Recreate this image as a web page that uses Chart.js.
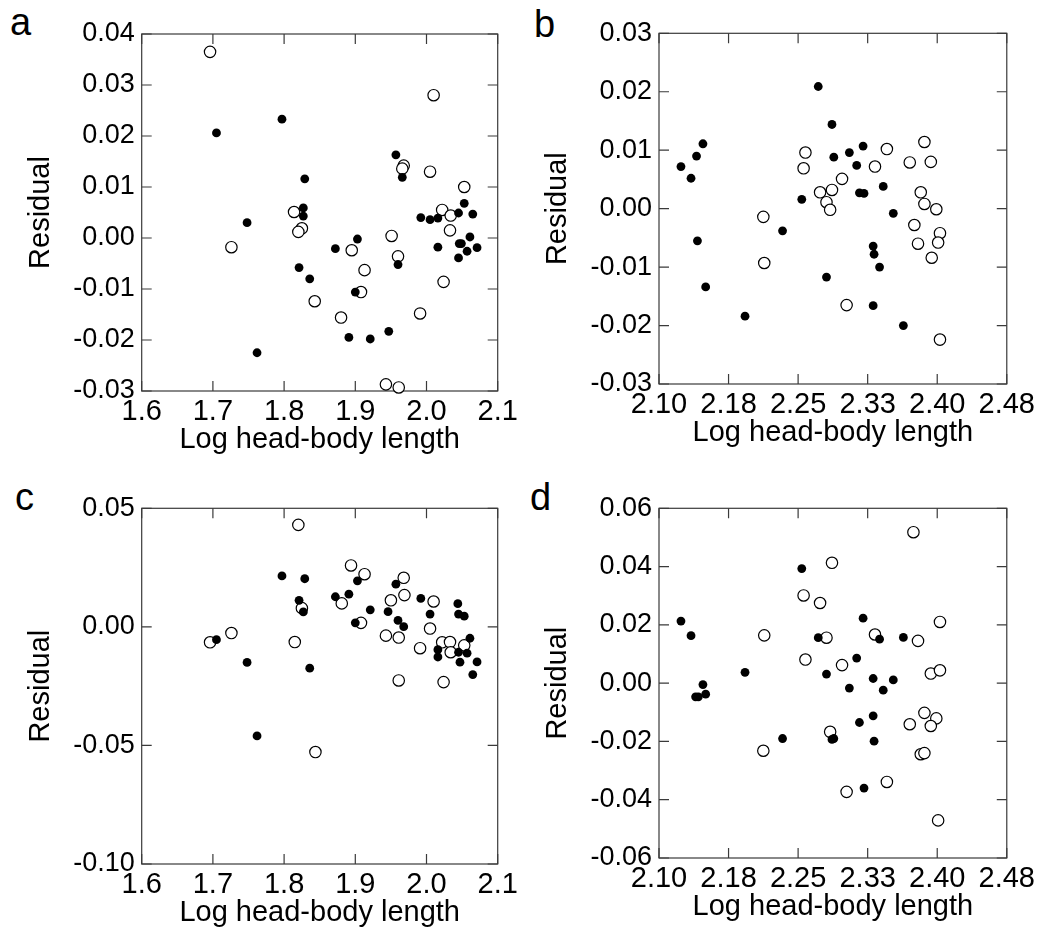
<!DOCTYPE html>
<html>
<head>
<meta charset="utf-8">
<script src="https://cdn.jsdelivr.net/npm/chart.js@4"></script>
<style>
  html, body { margin: 0; padding: 0; background: #fff; overflow: hidden; }
  body { width: 1041px; height: 928px; position: relative; }
  canvas { position: absolute; }
  .letter { position: absolute; font: 38px/38px 'Liberation Sans', Arial, sans-serif; color: #000; }
</style>
</head>
<body>
<div class="letter" style="left:10px;top:3px">a</div>
<div class="letter" style="left:534px;top:5px">b</div>
<div class="letter" style="left:15px;top:478px">c</div>
<div class="letter" style="left:530px;top:478px">d</div>
<canvas id="chartA"></canvas>
<canvas id="chartB"></canvas>
<canvas id="chartC"></canvas>
<canvas id="chartD"></canvas>
<script>
// tick values
const xTicksAC = [1.6, 1.7, 1.8, 1.9, 2.0, 2.1];
const xTicksBD = [2.10, 2.176, 2.252, 2.328, 2.404, 2.48];
const yTicksA = [-0.03, -0.02, -0.01, 0, 0.01, 0.02, 0.03, 0.04];
const yTicksB = [-0.03, -0.02, -0.01, 0, 0.01, 0.02, 0.03];
const yTicksC = [-0.10, -0.05, 0, 0.05];
const yTicksD = [-0.06, -0.04, -0.02, 0, 0.02, 0.04, 0.06];

// panel a: [log head-body length, residual]
const aOpen = [[1.696,0.0365],[2.010,0.0280],[1.968,0.0142],[1.966,0.0136],[2.005,0.0130],[2.053,0.0100],
  [2.022,0.0055],[2.034,0.0044],[2.033,0.0015],[1.814,0.0051],[1.825,0.0019],[1.820,0.0012],[1.726,-0.0018],
  [1.951,0.0004],[1.895,-0.0024],[1.960,-0.0036],[1.913,-0.0063],[1.908,-0.0106],[2.024,-0.0086],[1.843,-0.0124],
  [1.880,-0.0156],[1.991,-0.0148],[1.943,-0.0287],[1.961,-0.0293]];
const aFilled = [[1.705,0.0206],[1.797,0.0233],[1.829,0.0116],[1.957,0.0163],[1.966,0.0119],[1.748,0.0030],
  [1.827,0.0059],[1.827,0.0043],[1.992,0.0040],[2.005,0.0036],[2.016,0.0039],[2.045,0.0049],[2.053,0.0068],
  [2.065,0.0047],[2.061,0.0002],[1.872,-0.0021],[1.903,-0.0002],[2.016,-0.0018],[2.046,-0.0011],[2.049,-0.0011],
  [2.071,-0.0019],[2.057,-0.0026],[2.045,-0.0039],[1.960,-0.0052],[1.821,-0.0058],[1.836,-0.0080],[1.900,-0.0106],
  [1.891,-0.0195],[1.921,-0.0198],[1.947,-0.0183],[1.762,-0.0225]];

// panel b
const bOpen = [[2.260,0.0096],[2.258,0.0069],[2.276,0.0028],[2.289,0.0032],[2.283,0.0011],[2.287,-0.0002],
  [2.300,0.0051],[2.336,0.0072],[2.349,0.0102],[2.374,0.0079],[2.390,0.0114],[2.397,0.0080],[2.386,0.0028],
  [2.390,0.0008],[2.403,-0.0001],[2.379,-0.0028],[2.407,-0.0042],[2.405,-0.0058],[2.383,-0.0060],[2.398,-0.0084],
  [2.214,-0.0014],[2.215,-0.0093],[2.305,-0.0165],[2.407,-0.0224]];
const bFilled = [[2.124,0.0072],[2.135,0.0052],[2.141,0.0090],[2.148,0.0111],[2.142,-0.0055],[2.151,-0.0134],
  [2.194,-0.0184],[2.235,-0.0038],[2.256,0.0016],[2.274,0.0209],[2.289,0.0144],[2.291,0.0088],[2.308,0.0096],
  [2.316,0.0074],[2.323,0.0107],[2.319,0.0027],[2.324,0.0026],[2.345,0.0038],[2.356,-0.0008],[2.283,-0.0117],
  [2.334,-0.0064],[2.335,-0.0078],[2.341,-0.0100],[2.334,-0.0166],[2.367,-0.0200]];

// panel c
const cOpen = [[1.820,0.0430],[1.894,0.0259],[1.913,0.0222],[1.968,0.0207],[1.969,0.0134],[1.950,0.0112],
  [2.010,0.0107],[1.881,0.0099],[1.825,0.0079],[1.908,0.0017],[2.005,-0.0007],[1.943,-0.0037],[1.961,-0.0045],
  [1.726,-0.0026],[1.696,-0.0065],[1.815,-0.0064],[1.991,-0.0090],[2.022,-0.0065],[2.033,-0.0064],[2.034,-0.0107],
  [2.053,-0.0078],[1.961,-0.0226],[2.024,-0.0233],[1.844,-0.0528]];
const cFilled = [[1.797,0.0215],[1.829,0.0203],[1.903,0.0194],[1.957,0.0180],[1.821,0.0112],[1.872,0.0127],
  [1.891,0.0138],[1.992,0.0120],[2.044,0.0098],[1.921,0.0072],[1.827,0.0063],[1.946,0.0064],[2.005,0.0054],
  [2.045,0.0054],[2.053,0.0045],[1.900,0.0017],[1.960,0.0027],[1.968,0.0001],[1.705,-0.0054],[2.061,-0.0048],
  [2.016,-0.0096],[2.016,-0.0127],[2.045,-0.0107],[2.057,-0.0111],[2.047,-0.0149],[2.071,-0.0148],[1.748,-0.0150],
  [1.836,-0.0174],[2.065,-0.0201],[1.762,-0.0460]];

// panel d
const dOpen = [[2.378,0.0518],[2.289,0.0413],[2.258,0.0301],[2.276,0.0275],[2.215,0.0164],[2.283,0.0156],
  [2.336,0.0167],[2.383,0.0145],[2.407,0.0210],[2.260,0.0081],[2.300,0.0062],[2.397,0.0033],[2.407,0.0044],
  [2.390,-0.0102],[2.403,-0.0121],[2.374,-0.0141],[2.397,-0.0147],[2.287,-0.0167],[2.214,-0.0232],[2.386,-0.0244],
  [2.390,-0.0240],[2.349,-0.0339],[2.305,-0.0373],[2.405,-0.0471]];
const dFilled = [[2.124,0.0213],[2.135,0.0163],[2.148,-0.0005],[2.140,-0.0047],[2.143,-0.0047],[2.151,-0.0038],
  [2.194,0.0037],[2.235,-0.0190],[2.256,0.0393],[2.274,0.0156],[2.283,0.0031],[2.289,-0.0193],[2.291,-0.0190],
  [2.308,-0.0017],[2.316,0.0086],[2.323,0.0223],[2.319,-0.0135],[2.324,-0.0360],[2.334,0.0016],[2.334,-0.0112],
  [2.335,-0.0199],[2.341,0.0151],[2.345,-0.0024],[2.356,0.0011],[2.367,0.0157]];

const FONT = "'Liberation Sans', Arial, sans-serif";

// frame with inward ticks on all four sides
const framePlugin = {
  id: 'frame',
  beforeDatasetsDraw(chart) {
    const {ctx, chartArea: {left, top, right, bottom}, scales: {x, y}} = chart;
    const len = 10;
    ctx.save();
    ctx.strokeStyle = '#3a3a3a';
    ctx.lineWidth = 1.2;
    ctx.strokeRect(left, top, right - left, bottom - top);
    ctx.beginPath();
    x.ticks.forEach(t => {
      const px = x.getPixelForValue(t.value);
      ctx.moveTo(px, bottom); ctx.lineTo(px, bottom - len);
      ctx.moveTo(px, top); ctx.lineTo(px, top + len);
    });
    y.ticks.forEach(t => {
      const py = y.getPixelForValue(t.value);
      ctx.moveTo(left, py); ctx.lineTo(left + len, py);
      ctx.moveTo(right, py); ctx.lineTo(right - len, py);
    });
    ctx.stroke();
    ctx.restore();
  }
};

function toPts(arr) {
  return arr.map(p => ({x: p[0], y: p[1]}));
}

function makePanel(id, box, canvasLeft, canvasTop, open, filled, xTicks, yTicks, xDec, yDec) {
  const [L, T, R, B] = box;
  const yAxisW = L - canvasLeft;
  const xAxisH = 76;
  const padRight = 30;
  const canvas = document.getElementById(id);
  canvas.style.left = canvasLeft + 'px';
  canvas.style.top = canvasTop + 'px';
  canvas.width = Math.round(R + padRight - canvasLeft);
  canvas.height = Math.round(B + xAxisH - canvasTop);

  new Chart(canvas, {
    type: 'scatter',
    data: {
      datasets: [
        {
          label: 'filled',
          data: toPts(filled),
          backgroundColor: '#000',
          borderWidth: 0,
          pointRadius: 4.4,
          clip: false,
        },
        {
          label: 'open',
          data: toPts(open),
          backgroundColor: '#fff',
          borderColor: '#000',
          borderWidth: 1.2,
          pointRadius: 5.7,
          clip: false,
        },
      ],
    },
    options: {
      responsive: false,
      animation: false,
      events: [],
      layout: {padding: {top: T - canvasTop, right: canvas.width - (R - canvasLeft), left: 0, bottom: 0}},
      plugins: {legend: {display: false}, tooltip: {enabled: false}},
      scales: {
        x: {
          type: 'linear',
          min: xTicks[0],
          max: xTicks[xTicks.length - 1],
          afterBuildTicks: (s) => { s.ticks = xTicks.map(v => ({value: v})); },
          afterFit: (s) => { s.height = xAxisH; },
          grid: {display: false, drawTicks: false},
          border: {display: false},
          ticks: {
            color: '#000',
            padding: 4,
            maxRotation: 0,
            autoSkip: false,
            font: {family: FONT, size: 29},
            callback: (v) => Number(v).toFixed(xDec),
          },
          title: {
            display: true,
            text: 'Log head-body length',
            color: '#000',
            font: {family: FONT, size: 29},
            padding: {top: 0, bottom: 10},
          },
        },
        y: {
          type: 'linear',
          min: yTicks[0],
          max: yTicks[yTicks.length - 1],
          afterBuildTicks: (s) => { s.ticks = yTicks.map(v => ({value: v})); },
          afterFit: (s) => { s.width = yAxisW; },
          grid: {display: false, drawTicks: false},
          border: {display: false},
          ticks: {
            color: '#000',
            padding: 7,
            autoSkip: false,
            font: {family: FONT, size: 27},
            callback: (v) => Number(v).toFixed(yDec),
          },
          title: {
            display: true,
            text: 'Residual',
            color: '#000',
            font: {family: FONT, size: 29},
            padding: {top: (L - 101) - canvasLeft - 17.4, bottom: 0},
          },
        },
      },
    },
    plugins: [framePlugin],
  });
}

makePanel('chartA', [141.7, 34, 497.7, 390.7], 0, 0, aOpen, aFilled, xTicksAC, yTicksA, 1, 2);
makePanel('chartB', [659, 33.3, 1009.3, 384], 519, 0, bOpen, bFilled, xTicksBD, yTicksB, 2, 2);
makePanel('chartC', [141.7, 508.3, 497.7, 864.3], 0, 460, cOpen, cFilled, xTicksAC, yTicksC, 1, 2);
makePanel('chartD', [659, 508.3, 1009.3, 858.3], 519, 460, dOpen, dFilled, xTicksBD, yTicksD, 2, 2);
</script>
</body>
</html>
